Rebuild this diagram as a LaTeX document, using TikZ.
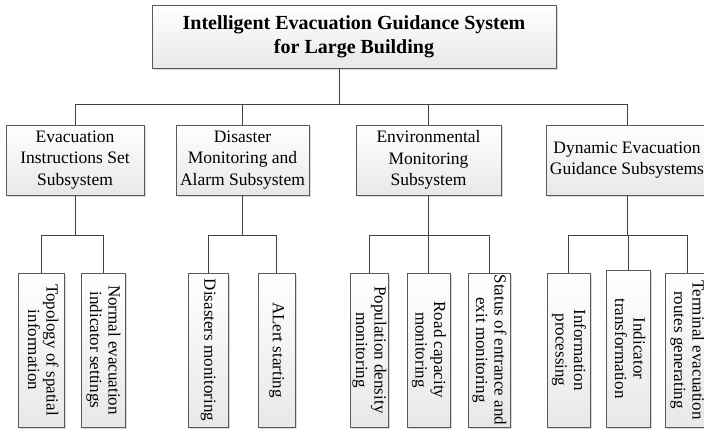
\documentclass[tikz,border=0pt]{standalone}
\usepackage{fontspec}
\setmainfont{Liberation Serif}
\usetikzlibrary{shadows}

\tikzset{
	box/.style={draw=black!65, top color=white, bottom color=black!9, align=center, inner sep=1pt,
		drop shadow={shadow xshift=2pt, shadow yshift=-2pt, opacity=.3}},
	sub/.style={box, minimum height=70pt, font=\fontsize{17.5}{21.5}\selectfont},
	leaf/.style={box, inner sep=0pt, minimum height=154pt, font=\fontsize{17}{18.5}\selectfont},
	link/.style={draw=black!75, line width=0.9pt}
}
\newcommand{\vtext}[1]{\rotatebox{-90}{\begin{tabular}{@{}c@{}}#1\end{tabular}}}

\begin{document}
\begin{tikzpicture}[x=1pt,y=-1pt]
	\clip (0,0) rectangle (704,435);
	\node[box, minimum width=404pt, minimum height=63pt, font=\bfseries\fontsize{20}{24}\selectfont] (igs) at (354,36.5)
		{Intelligent Evacuation Guidance System\\for Large Building};
	
	\node[sub, minimum width=138pt] (eis) at (75,160)    {Evacuation\\Instructions Set\\Subsystem};
	\node[sub, minimum width=133pt] (dma) at (242.5,160) {Disaster\\Monitoring and\\Alarm Subsystem};
	\node[sub, minimum width=145pt] (ems) at (428.5,160) {Environmental\\Monitoring\\Subsystem};
	\node[sub, minimum width=162pt] (deg) at (627,160)   {Dynamic Evacuation\\Guidance Subsystems};
	
	\node[leaf, minimum width=46pt] (tsi) at (41,350)    {\vtext{Topology of spatial\\information}};
	\node[leaf, minimum width=44pt] (nei) at (103,350)   {\vtext{Normal evacuation\\indicator settings}};
	\node[leaf, minimum width=40pt] (dsm) at (208,350)   {\vtext{Disasters monitoring}};
	\node[leaf, minimum width=37pt] (als) at (276.5,350) {\vtext{ALert starting}};
	\node[leaf, minimum width=38pt] (pdm) at (369,350)   {\vtext{Population density\\monitoring}};
	\node[leaf, minimum width=43pt] (rcm) at (428.5,350) {\vtext{Road capacity\\monitoring}};
	\node[leaf, minimum width=42pt] (sem) at (489,350)   {\vtext{Status of entrance and\\exit monitoring}};
	\node[leaf, minimum width=43pt] (inp) at (568.5,350) {\vtext{Information\\processing}};
	\node[leaf, minimum width=44pt, minimum height=157pt] (int) at (628,348.5) {\vtext{Indicator\\transformation}};
	\node[leaf, minimum width=44pt] (teg) at (687,350)   {\vtext{Terminal evacuation\\routes generating}};
	
	\coordinate (hub) at (339,104);
	\draw[link] (igs.south -| hub) -- (hub);
	\foreach \n in {eis,dma,ems,deg}
		\draw[link] (hub) -| (\n.north);
	\foreach \p/\c in {eis/tsi,eis/nei,dma/dsm,dma/als,ems/pdm,ems/rcm,ems/sem,deg/inp,deg/int,deg/teg}
		\draw[link] (\p.south) -- ++(0,40) -| (\c.north);
\end{tikzpicture}
\end{document}
